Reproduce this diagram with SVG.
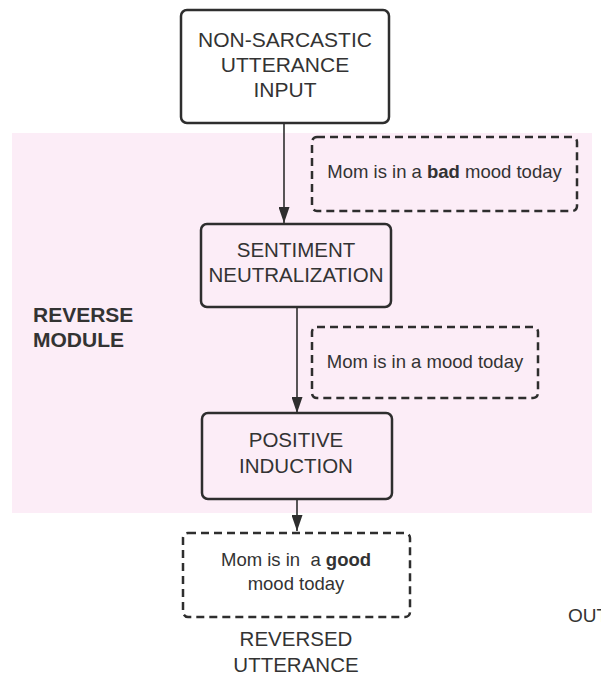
<svg xmlns="http://www.w3.org/2000/svg" width="601" height="676" viewBox="0 0 601 676">
  <style>
    .box { fill: none; stroke: #2e2e2e; stroke-width: 2.5; }
    .dash { fill: none; stroke: #2e2e2e; stroke-width: 2.5; stroke-dasharray: 8 5; }
    .lbl { font-family: "Liberation Sans", Arial, sans-serif; font-size: 20.5px; fill: #333; text-anchor: middle; }
    .note { font-family: "Liberation Sans", Arial, sans-serif; font-size: 18.5px; fill: #333; text-anchor: middle; }
    .edge { stroke: #2e2e2e; stroke-width: 1.6; fill: none; }
    .b { font-weight: bold; }
  </style>
  <defs>
    <marker id="arrow" markerUnits="userSpaceOnUse" markerWidth="16" markerHeight="11" viewBox="0 0 16 11" refX="16" refY="5.5" orient="auto">
      <path d="M0,0 L16,5.5 L0,11 z" fill="#2e2e2e"/>
    </marker>
  </defs>

  <rect width="601" height="676" fill="#ffffff"/>

  <!-- reverse module area -->
  <g id="reverse-module">
    <rect x="12" y="133" width="580" height="380" fill="#fcedf7"/>
    <text class="lbl b" x="33" y="322" style="text-anchor:start;font-size:21px">REVERSE</text>
    <text class="lbl b" x="33" y="347" style="text-anchor:start;font-size:21px">MODULE</text>
  </g>

  <g id="connectors">
    <line class="edge" x1="284" y1="123" x2="284" y2="223" marker-end="url(#arrow)"/>
    <line class="edge" x1="297" y1="307" x2="297" y2="413" marker-end="url(#arrow)"/>
    <line class="edge" x1="297" y1="499" x2="297" y2="531" marker-end="url(#arrow)"/>
  </g>

  <g id="input">
    <rect class="box" x="181" y="10" width="208" height="113" rx="6" style="fill:#ffffff"/>
    <text class="lbl" x="285" y="47" style="font-size:21px">NON-SARCASTIC</text>
    <text class="lbl" x="285" y="72" style="font-size:21px">UTTERANCE</text>
    <text class="lbl" x="285" y="97" style="font-size:21px">INPUT</text>
  </g>

  <g id="note-bad">
    <rect class="dash" x="312" y="137" width="265" height="74" rx="5"/>
    <text class="note" x="444.5" y="178">Mom is in a <tspan font-weight="bold">bad</tspan> mood today</text>
  </g>

  <g id="neutralization">
    <rect class="box" x="201" y="224" width="190" height="83" rx="6"/>
    <text class="lbl" x="296" y="257">SENTIMENT</text>
    <text class="lbl" x="296" y="282">NEUTRALIZATION</text>
  </g>

  <g id="note-neutral">
    <rect class="dash" x="312" y="327" width="226" height="71" rx="5"/>
    <text class="note" x="425" y="368">Mom is in a mood today</text>
  </g>

  <g id="induction">
    <rect class="box" x="202" y="413" width="190" height="86" rx="6"/>
    <text class="lbl" x="296" y="447">POSITIVE</text>
    <text class="lbl" x="296" y="473">INDUCTION</text>
  </g>

  <g id="note-good">
    <rect class="dash" x="183" y="533" width="227" height="84" rx="5"/>
    <text class="note" x="296" y="566" xml:space="preserve">Mom is in  a <tspan font-weight="bold">good</tspan></text>
    <text class="note" x="296" y="590">mood today</text>
  </g>

  <g id="output">
    <text class="lbl" x="296" y="646">REVERSED</text>
    <text class="lbl" x="296" y="672">UTTERANCE</text>
  </g>

  <g id="output-side">
    <text class="lbl" x="568" y="622" style="text-anchor:start;font-size:19px">OUT</text>
  </g>
</svg>
